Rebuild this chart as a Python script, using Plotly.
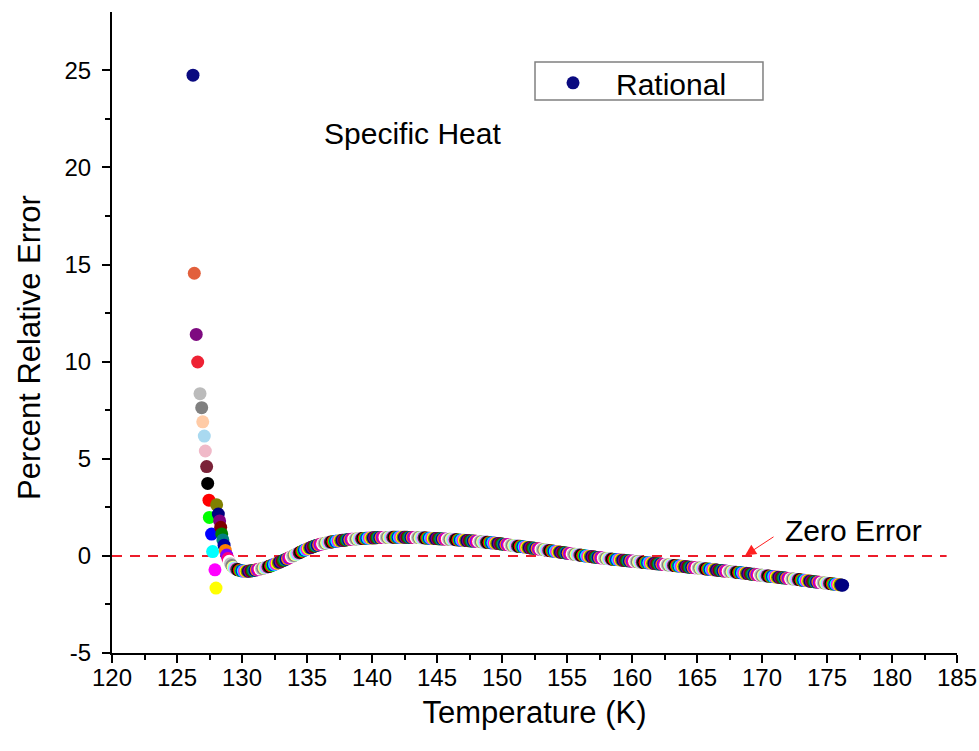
import plotly.graph_objects as go

# Steep low-temperature branch (each point has its own colour)
steep_temp = [126.23, 126.33, 126.48, 126.59, 126.77, 126.90, 126.98, 127.10, 127.18, 127.28,
              127.36, 127.46, 127.49, 127.66, 127.74, 127.92, 128.00]
steep_err = [24.75, 14.55, 11.40, 9.98, 8.35, 7.63, 6.90, 6.17, 5.40, 4.60,
             3.73, 2.87, 1.98, 1.12, 0.22, -0.72, -1.66]
steep_colors = ["#0A0A80", "#E2603C", "#7E0A80", "#EE2234", "#BBBBBB", "#808080",
                "#FFCBA6", "#A9D9F0", "#F0B9C8", "#7A2238"]

# Recovery branch just above the critical region
knee_temp = [128.05, 128.18, 128.28, 128.36, 128.44, 128.53, 128.62, 128.72, 128.82, 128.92,
             129.02, 129.12, 129.22, 129.32]
knee_err = [2.63, 2.15, 1.80, 1.47, 1.13, 0.82, 0.55, 0.28, 0.04, -0.14,
            -0.28, -0.40, -0.50, -0.58]

# Smooth part of the error curve
curve_temp = [
    129.4, 129.5, 129.6, 129.7, 129.8, 129.9,
    130.0, 130.1, 130.2, 130.3, 130.4, 130.5, 130.6, 130.7, 130.8, 130.9,
    131.0, 131.1, 131.2, 131.3, 131.4, 131.5, 131.6, 131.7, 131.8, 131.9,
    132.0, 132.1, 132.2, 132.3, 132.4, 132.5, 132.6, 132.7, 132.8, 132.9,
    133.0, 133.1, 133.2, 133.3, 133.4, 133.5, 133.6, 133.7, 133.8, 133.9,
    134.0, 134.1, 134.2, 134.3, 134.4, 134.5, 134.6, 134.7, 134.8, 134.9,
    135.0, 135.1, 135.2, 135.3, 135.4, 135.5, 135.6, 135.7, 135.8, 135.9,
    136.0, 136.1, 136.2, 136.3, 136.4, 136.5, 136.6, 136.7, 136.8, 136.9,
    137.0, 137.1, 137.2, 137.3, 137.4, 137.5, 137.6, 137.7, 137.8, 137.9,
    138.0, 138.1, 138.2, 138.3, 138.4, 138.5, 138.6, 138.7, 138.8, 138.9,
    139.0, 139.1, 139.2, 139.3, 139.4, 139.5, 139.6, 139.7, 139.8, 139.9,
    140.0, 140.1, 140.2, 140.3, 140.4, 140.5, 140.6, 140.7, 140.8, 140.9,
    141.0, 141.1, 141.2, 141.3, 141.4, 141.5, 141.6, 141.7, 141.8, 141.9,
    142.0, 142.1, 142.2, 142.3, 142.4, 142.5, 142.6, 142.7, 142.8, 142.9,
    143.0, 143.1, 143.2, 143.3, 143.4, 143.5, 143.6, 143.7, 143.8, 143.9,
    144.0, 144.1, 144.2, 144.3, 144.4, 144.5, 144.6, 144.7, 144.8, 144.9,
    145.0, 145.1, 145.2, 145.3, 145.4, 145.5, 145.6, 145.7, 145.8, 145.9,
    146.0, 146.1, 146.2, 146.3, 146.4, 146.5, 146.6, 146.7, 146.8, 146.9,
    147.0, 147.1, 147.2, 147.3, 147.4, 147.5, 147.6, 147.7, 147.8, 147.9,
    148.0, 148.1, 148.2, 148.3, 148.4, 148.5, 148.6, 148.7, 148.8, 148.9,
    149.0, 149.1, 149.2, 149.3, 149.4, 149.5, 149.6, 149.7, 149.8, 149.9,
    150.0, 150.1, 150.2, 150.3, 150.4, 150.5, 150.6, 150.7, 150.8, 150.9,
    151.0, 151.1, 151.2, 151.3, 151.4, 151.5, 151.6, 151.7, 151.8, 151.9,
    152.0, 152.1, 152.2, 152.3, 152.4, 152.5, 152.6, 152.7, 152.8, 152.9,
    153.0, 153.1, 153.2, 153.3, 153.4, 153.5, 153.6, 153.7, 153.8, 153.9,
    154.0, 154.1, 154.2, 154.3, 154.4, 154.5, 154.6, 154.7, 154.8, 154.9,
    155.0, 155.1, 155.2, 155.3, 155.4, 155.5, 155.6, 155.7, 155.8, 155.9,
    156.0, 156.1, 156.2, 156.3, 156.4, 156.5, 156.6, 156.7, 156.8, 156.9,
    157.0, 157.1, 157.2, 157.3, 157.4, 157.5, 157.6, 157.7, 157.8, 157.9,
    158.0, 158.1, 158.2, 158.3, 158.4, 158.5, 158.6, 158.7, 158.8, 158.9,
    159.0, 159.1, 159.2, 159.3, 159.4, 159.5, 159.6, 159.7, 159.8, 159.9,
    160.0, 160.1, 160.2, 160.3, 160.4, 160.5, 160.6, 160.7, 160.8, 160.9,
    161.0, 161.1, 161.2, 161.3, 161.4, 161.5, 161.6, 161.7, 161.8, 161.9,
    162.0, 162.1, 162.2, 162.3, 162.4, 162.5, 162.6, 162.7, 162.8, 162.9,
    163.0, 163.1, 163.2, 163.3, 163.4, 163.5, 163.6, 163.7, 163.8, 163.9,
    164.0, 164.1, 164.2, 164.3, 164.4, 164.5, 164.6, 164.7, 164.8, 164.9,
    165.0, 165.1, 165.2, 165.3, 165.4, 165.5, 165.6, 165.7, 165.8, 165.9,
    166.0, 166.1, 166.2, 166.3, 166.4, 166.5, 166.6, 166.7, 166.8, 166.9,
    167.0, 167.1, 167.2, 167.3, 167.4, 167.5, 167.6, 167.7, 167.8, 167.9,
    168.0, 168.1, 168.2, 168.3, 168.4, 168.5, 168.6, 168.7, 168.8, 168.9,
    169.0, 169.1, 169.2, 169.3, 169.4, 169.5, 169.6, 169.7, 169.8, 169.9,
    170.0, 170.1, 170.2, 170.3, 170.4, 170.5, 170.6, 170.7, 170.8, 170.9,
    171.0, 171.1, 171.2, 171.3, 171.4, 171.5, 171.6, 171.7, 171.8, 171.9,
    172.0, 172.1, 172.2, 172.3, 172.4, 172.5, 172.6, 172.7, 172.8, 172.9,
    173.0, 173.1, 173.2, 173.3, 173.4, 173.5, 173.6, 173.7, 173.8, 173.9,
    174.0, 174.1, 174.2, 174.3, 174.4, 174.5, 174.6, 174.7, 174.8, 174.9,
    175.0, 175.1, 175.2, 175.3, 175.4, 175.5, 175.6, 175.7, 175.8, 175.9,
    176.0, 176.1, 176.2,
]
curve_err = [
    -0.62, -0.66, -0.69, -0.72, -0.74, -0.76,
    -0.77, -0.78, -0.79, -0.79, -0.79, -0.79, -0.78, -0.77, -0.76, -0.75,
    -0.74, -0.72, -0.71, -0.69, -0.68, -0.66, -0.64, -0.62, -0.60, -0.58,
    -0.56, -0.54, -0.51, -0.49, -0.46, -0.44, -0.41, -0.38, -0.35, -0.32,
    -0.29, -0.26, -0.23, -0.20, -0.17, -0.14, -0.11, -0.07, -0.04, -0.01,
    0.03, 0.06, 0.09, 0.13, 0.16, 0.19, 0.23, 0.26, 0.29, 0.32,
    0.35, 0.38, 0.41, 0.43, 0.46, 0.48, 0.51, 0.53, 0.55, 0.57,
    0.59, 0.61, 0.62, 0.64, 0.65, 0.67, 0.68, 0.70, 0.71, 0.72,
    0.73, 0.74, 0.75, 0.76, 0.77, 0.78, 0.79, 0.80, 0.81, 0.81,
    0.82, 0.83, 0.84, 0.84, 0.85, 0.86, 0.86, 0.87, 0.87, 0.88,
    0.88, 0.89, 0.89, 0.90, 0.90, 0.91, 0.91, 0.91, 0.92, 0.92,
    0.92, 0.93, 0.93, 0.93, 0.94, 0.94, 0.94, 0.94, 0.95, 0.95,
    0.95, 0.95, 0.95, 0.95, 0.96, 0.96, 0.96, 0.96, 0.96, 0.96,
    0.96, 0.96, 0.96, 0.96, 0.96, 0.96, 0.96, 0.96, 0.95, 0.95,
    0.95, 0.95, 0.95, 0.94, 0.94, 0.94, 0.94, 0.93, 0.93, 0.93,
    0.93, 0.92, 0.92, 0.91, 0.91, 0.91, 0.90, 0.90, 0.89, 0.89,
    0.89, 0.88, 0.88, 0.88, 0.87, 0.87, 0.87, 0.86, 0.86, 0.85,
    0.85, 0.85, 0.84, 0.84, 0.83, 0.83, 0.82, 0.82, 0.81, 0.81,
    0.80, 0.80, 0.79, 0.79, 0.78, 0.78, 0.77, 0.77, 0.76, 0.76,
    0.75, 0.74, 0.74, 0.73, 0.73, 0.72, 0.71, 0.71, 0.70, 0.70,
    0.69, 0.68, 0.67, 0.67, 0.66, 0.65, 0.64, 0.64, 0.63, 0.62,
    0.61, 0.60, 0.59, 0.58, 0.58, 0.57, 0.56, 0.55, 0.54, 0.53,
    0.52, 0.51, 0.50, 0.49, 0.49, 0.48, 0.47, 0.46, 0.45, 0.44,
    0.43, 0.42, 0.41, 0.40, 0.40, 0.39, 0.38, 0.37, 0.36, 0.35,
    0.34, 0.33, 0.32, 0.31, 0.30, 0.29, 0.28, 0.27, 0.26, 0.25,
    0.24, 0.23, 0.22, 0.21, 0.20, 0.19, 0.18, 0.17, 0.16, 0.15,
    0.14, 0.13, 0.12, 0.11, 0.10, 0.09, 0.08, 0.07, 0.06, 0.05,
    0.04, 0.03, 0.02, 0.01, 0.00, -0.01, -0.02, -0.03, -0.03, -0.04,
    -0.05, -0.06, -0.07, -0.08, -0.08, -0.09, -0.10, -0.11, -0.12, -0.12,
    -0.13, -0.14, -0.15, -0.16, -0.16, -0.17, -0.18, -0.19, -0.19, -0.20,
    -0.20, -0.21, -0.22, -0.22, -0.23, -0.24, -0.25, -0.25, -0.26, -0.26,
    -0.27, -0.28, -0.28, -0.29, -0.30, -0.31, -0.31, -0.32, -0.33, -0.33,
    -0.34, -0.35, -0.35, -0.36, -0.37, -0.38, -0.38, -0.39, -0.40, -0.40,
    -0.41, -0.42, -0.42, -0.43, -0.44, -0.45, -0.45, -0.46, -0.47, -0.47,
    -0.48, -0.49, -0.49, -0.50, -0.51, -0.52, -0.52, -0.53, -0.54, -0.54,
    -0.55, -0.56, -0.56, -0.57, -0.58, -0.59, -0.59, -0.60, -0.61, -0.61,
    -0.62, -0.63, -0.63, -0.64, -0.65, -0.66, -0.66, -0.67, -0.68, -0.68,
    -0.69, -0.70, -0.71, -0.71, -0.72, -0.73, -0.74, -0.75, -0.75, -0.76,
    -0.77, -0.78, -0.78, -0.79, -0.80, -0.81, -0.81, -0.82, -0.83, -0.83,
    -0.84, -0.85, -0.86, -0.86, -0.87, -0.88, -0.89, -0.90, -0.90, -0.91,
    -0.92, -0.93, -0.94, -0.94, -0.95, -0.96, -0.97, -0.98, -0.98, -0.99,
    -1.00, -1.01, -1.02, -1.02, -1.03, -1.04, -1.05, -1.06, -1.06, -1.07,
    -1.08, -1.09, -1.10, -1.10, -1.11, -1.12, -1.13, -1.14, -1.14, -1.15,
    -1.16, -1.17, -1.18, -1.18, -1.19, -1.20, -1.21, -1.22, -1.22, -1.23,
    -1.24, -1.25, -1.26, -1.26, -1.27, -1.28, -1.29, -1.30, -1.31, -1.32,
    -1.33, -1.34, -1.34, -1.35, -1.36, -1.37, -1.38, -1.38, -1.39, -1.40,
    -1.41, -1.42, -1.42, -1.43, -1.44, -1.45, -1.46, -1.46, -1.47, -1.48,
    -1.49, -1.50, -1.51,
]

# Colour cycle used after the first ten points
palette = ["#000000", "#FF0000", "#00FF00", "#0000FF", "#00FFFF", "#FF00FF", "#FFFF00",
           "#808000", "#000080", "#800080", "#800000", "#008000", "#008080", "#0000A0",
           "#FF8000", "#8000FF", "#FF0080", "#FFFFFF", "#C0C0C0", "#808080", "#FFFF80",
           "#80FFFF", "#FF80FF", "#404040"]

x_ticks = [120, 125, 130, 135, 140, 145, 150, 155, 160, 165, 170, 175, 180, 185]
y_ticks = [-5, 0, 5, 10, 15, 20, 25]
y_tick_text = ["-5", "0", "5", "10", "15", "20", "25"]
x_minor = [122.5, 127.5, 132.5, 137.5, 142.5, 147.5, 152.5, 157.5, 162.5, 167.5, 172.5, 177.5, 182.5]
y_minor = [-2.5, 2.5, 7.5, 12.5, 17.5, 22.5]

temps = steep_temp + knee_temp + curve_temp
errs = steep_err + knee_err + curve_err
n_rest = len(temps) - len(steep_colors)
colors = steep_colors + [palette[i % len(palette)] for i in range(n_rest)]
# last point closes the series in navy
colors[-1] = "#000080"

FONT = "Arial, 'Liberation Sans', sans-serif"

fig = go.Figure()
fig.add_trace(go.Scatter(
    x=temps, y=errs, mode="markers", name="Rational",
    marker=dict(size=13, color=colors, line=dict(width=0)),
    showlegend=True,
))

# Zero-error reference line
fig.add_shape(type="line", xref="x", yref="y", x0=120, x1=184.2, y0=0, y1=0,
              line=dict(color="#EC1C2A", width=2, dash="10px,8px"), layer="below")

# Legend frame
fig.add_shape(type="rect", xref="paper", yref="paper",
              x0=0.5006, x1=0.7704, y0=0.8627, y1=0.922,
              line=dict(color="#808080", width=1.5), fillcolor="white", layer="below")

fig.add_annotation(x=143.1, y=21.75, xref="x", yref="y", text="Specific Heat",
                   showarrow=False, font=dict(family=FONT, size=30, color="black"))
fig.add_annotation(x=171.6, y=1.3, xref="x", yref="y", text="Zero Error",
                   xanchor="left", showarrow=False,
                   font=dict(family=FONT, size=30, color="black"))
fig.add_annotation(x=168.7, y=0.02, ax=171.0, ay=1.03, xref="x", yref="y",
                   axref="x", ayref="y", text="", showarrow=True,
                   arrowhead=2, arrowsize=2.2, arrowwidth=1, arrowcolor="#FF2020")
# Vertical axis title
fig.add_annotation(x=-0.0982, y=0.4758, xref="paper", yref="paper",
                   xanchor="center", yanchor="middle",
                   text="Percent Relative Error", textangle=-90, showarrow=False,
                   font=dict(family=FONT, size=31, color="black"))

axis_common = dict(
    showline=True, linecolor="black", linewidth=2, mirror=False,
    ticks="outside", ticklen=8, tickwidth=2, tickcolor="black",
    showgrid=False, zeroline=False,
    tickfont=dict(family=FONT, size=24, color="black"),
)

fig.update_xaxes(
    range=[120, 185], tickmode="array", tickvals=x_ticks,
    minor=dict(tickmode="array", tickvals=x_minor, ticks="outside", ticklen=5,
               tickwidth=2, tickcolor="black"),
    ticklabelstandoff=-6,
    title=dict(text="Temperature (K)", font=dict(family=FONT, size=31, color="black"),
               standoff=12),
    **axis_common,
)
fig.update_yaxes(
    range=[-5, 28], tickmode="array", tickvals=y_ticks, ticktext=y_tick_text,
    minor=dict(tickmode="array", tickvals=y_minor, ticks="outside", ticklen=5,
               tickwidth=2, tickcolor="black"),
    ticklabelstandoff=6,
    **axis_common,
)

fig.update_layout(
    width=979, height=751,
    margin=dict(l=112, r=22, t=12, b=98, autoexpand=False),
    plot_bgcolor="white", paper_bgcolor="white",
    legend=dict(x=0.4947, y=0.930, xanchor="left", yanchor="top",
                borderwidth=0, bgcolor="rgba(0,0,0,0)",
                font=dict(family=FONT, size=30, color="black"), itemwidth=76),
)

fig.write_html("out.html")
